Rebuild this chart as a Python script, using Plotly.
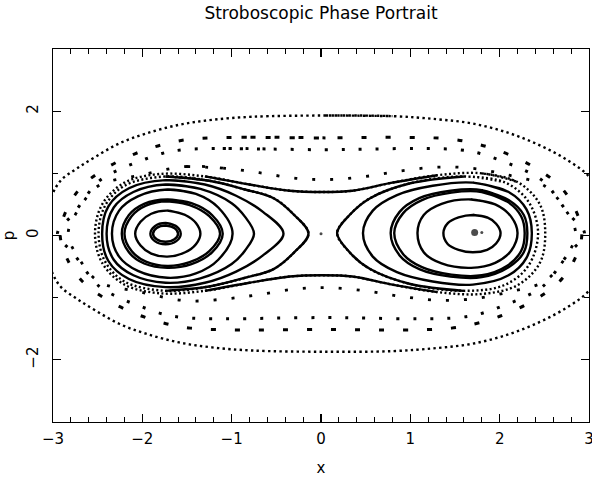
import plotly.graph_objects as go

# ---------------- data ----------------
# Every orbit is given by points on its upper half (x, p), left to right.
# The lower half is the mirror image about the portrait's mid-line P_AXIS.
P_AXIS = 0.03

# outer dense dotted torus
outer_x = [-3.13, -3.02, -2.91, -2.73, -2.52, -2.26, -1.96, -1.59, -1.22, -0.77, 0.05, 0.80, 1.30, 1.70, 2.10, 2.45, 2.75, 3.00, 3.20, 3.27]
outer_p = [0.03, 0.62, 0.89, 1.08, 1.27, 1.48, 1.64, 1.78, 1.86, 1.91, 1.93, 1.92, 1.87, 1.80, 1.65, 1.45, 1.22, 0.95, 0.50, 0.03]

# island chain, dashed row
rowA_x = [-2.92, -2.84, -2.67, -2.41, -2.09, -1.78, -1.46, -0.89, 0.05, 0.89, 1.46, 1.78, 2.09, 2.41, 2.67, 2.84, 2.92]
rowA_p = [0.03, 0.44, 0.80, 1.08, 1.31, 1.46, 1.55, 1.58, 1.57, 1.58, 1.55, 1.46, 1.31, 1.08, 0.80, 0.44, 0.03]

# island chain, dotted row
rowB_x = [-2.95, -2.77, -2.49, -2.26, -2.02, -1.78, -1.54, -1.10, -0.54, 0.05, 0.54, 1.10, 1.54, 1.78, 2.02, 2.26, 2.49, 2.77, 2.95]
rowB_p = [0.03, 0.35, 0.87, 1.06, 1.20, 1.32, 1.38, 1.40, 1.39, 1.38, 1.39, 1.40, 1.38, 1.32, 1.20, 1.06, 0.87, 0.35, 0.03]

# sparse orbit just outside the separatrix
ring3_x = [-2.83, -2.70, -2.49, -2.02, -1.50, -1.07, -0.69, -0.28, 0.09, 0.50, 0.90, 1.30, 1.70, 2.10, 2.50, 2.72, 2.85]
ring3_p = [0.03, 0.45, 0.80, 0.97, 1.11, 1.08, 1.01, 0.92, 0.90, 0.95, 1.04, 1.10, 1.08, 0.97, 0.80, 0.45, 0.03]

# solid orbit encircling both wells (dotted on its far sides)
eight_x = [-2.53, -2.45, -2.20, -1.80, -1.30, -0.80, -0.35, 0.00, 0.35, 0.80, 1.30, 1.80, 2.20, 2.45, 2.51]
eight_p = [0.03, 0.50, 0.85, 0.99, 0.95, 0.82, 0.72, 0.70, 0.72, 0.85, 0.97, 1.00, 0.86, 0.50, 0.03]
SOLID_HALF_WIDTH = 1.3

# left well orbits
left_orbits = [
    ([-1.91, -1.86, -1.74, -1.62, -1.57], [0.03, 0.15, 0.20, 0.15, 0.03]),
    ([-1.88, -1.84, -1.74, -1.64, -1.60], [0.03, 0.12, 0.16, 0.12, 0.03]),
    ([-2.08, -2.02, -1.90, -1.72, -1.52, -1.40, -1.35], [0.03, 0.22, 0.35, 0.40, 0.33, 0.20, 0.03]),
    ([-2.23, -2.15, -1.98, -1.72, -1.45, -1.22, -1.10], [0.03, 0.33, 0.51, 0.58, 0.52, 0.33, 0.03]),
    ([-2.20, -2.12, -1.96, -1.72, -1.47, -1.25, -1.13], [0.03, 0.31, 0.48, 0.55, 0.49, 0.31, 0.03]),
    ([-2.34, -2.26, -2.05, -1.72, -1.40, -1.15, -0.99], [0.03, 0.40, 0.63, 0.74, 0.67, 0.45, 0.03]),
    ([-2.40, -2.32, -2.10, -1.74, -1.35, -1.00, -0.85, -0.75], [0.03, 0.45, 0.70, 0.82, 0.75, 0.52, 0.30, 0.03]),
    ([-2.45, -2.38, -2.15, -1.74, -1.30, -0.95, -0.65, -0.42], [0.03, 0.47, 0.76, 0.89, 0.82, 0.64, 0.38, 0.03]),
]
# left near-separatrix orbit (dotted on its outer side)
lsep_x = [-2.49, -2.42, -2.20, -1.74, -1.25, -0.85, -0.53, -0.30, -0.14]
lsep_p = [0.03, 0.47, 0.80, 0.95, 0.88, 0.74, 0.60, 0.33, 0.03]

# right well orbits
right_orbits = [
    ([1.37, 1.42, 1.54, 1.70, 1.86, 1.96, 2.01], [0.04, 0.20, 0.29, 0.33, 0.29, 0.19, 0.04]),
    ([1.08, 1.15, 1.35, 1.68, 1.95, 2.13, 2.20], [0.04, 0.33, 0.51, 0.58, 0.50, 0.30, 0.04]),
    ([0.78, 0.88, 1.10, 1.45, 1.80, 2.10, 2.27, 2.31], [0.04, 0.38, 0.60, 0.72, 0.73, 0.57, 0.33, 0.04]),
    ([0.82, 0.92, 1.13, 1.46, 1.80, 2.08, 2.24, 2.28], [0.04, 0.36, 0.57, 0.69, 0.70, 0.55, 0.31, 0.04]),
    ([0.47, 0.58, 0.85, 1.25, 1.70, 2.10, 2.30, 2.36], [0.04, 0.40, 0.65, 0.80, 0.85, 0.70, 0.42, 0.04]),
]
rsep_x = [0.18, 0.32, 0.55, 1.00, 1.60, 2.05, 2.32, 2.43]
rsep_p = [0.04, 0.33, 0.60, 0.84, 0.95, 0.86, 0.55, 0.04]

# fixed points
fixed_x = [0.0, 1.72, 1.80]
fixed_p = [0.03, 0.05, 0.05]
fixed_size = [3, 7, 3]

x_ticks = [-3, -2, -1, 0, 1, 2, 3]
p_ticks = [-2, 0, 2]


# ---------------- helpers ----------------
def closed(xs, ps):
    """Upper half -> full closed path, started at the top and wrapped."""
    fx = list(xs) + list(xs[-2::-1])
    fp = list(ps) + [2 * P_AXIS - v for v in ps[-2::-1]]
    fx, fp = fx[:-1], fp[:-1]
    k = max(range(len(ps)), key=lambda i: ps[i])
    fx = fx[k:] + fx[:k]
    fp = fp[k:] + fp[:k]
    return fx + fx[:2], fp + fp[:2]


def line_trace(x, y, width=2.4, dash="solid"):
    return go.Scatter(x=x, y=y, mode="lines",
                      line=dict(color="black", width=width, shape="spline", dash=dash, smoothing=1.0),
                      hoverinfo="skip", showlegend=False)


fig = go.Figure()

# outer dense dotted orbit
fx, fp = closed(outer_x, outer_p)
fig.add_trace(line_trace(fx, fp, 2.4, "2.4px,3.3px"))
# island chain rows
fx, fp = closed(rowA_x, rowA_p)
fig.add_trace(line_trace(fx, fp, 3.0, "5px,19px"))
fx, fp = closed(rowB_x, rowB_p)
fig.add_trace(line_trace(fx, fp, 3.0, "3px,14px"))
fx, fp = closed(ring3_x, ring3_p)
fig.add_trace(line_trace(fx, fp, 2.8, "3px,15px"))

# encircling orbit: dotted everywhere, solid over the middle
fx, fp = closed(eight_x, eight_p)
fig.add_trace(line_trace(fx, fp, 2.4, "2px,2.4px"))
mid = [i for i, v in enumerate(eight_x) if abs(v) <= SOLID_HALF_WIDTH]
mx = [eight_x[i] for i in mid]
fig.add_trace(line_trace(mx, [eight_p[i] for i in mid]))
fig.add_trace(line_trace(mx, [2 * P_AXIS - eight_p[i] for i in mid]))

# near-separatrix lobe orbits: dotted outside, solid toward the saddle
for xs, ps, inner in ((lsep_x, lsep_p, lambda v: v >= -1.74), (rsep_x, rsep_p, lambda v: v <= 1.60)):
    fx, fp = closed(xs, ps)
    fig.add_trace(line_trace(fx, fp, 2.4, "2px,2.4px"))
    idx = [i for i, v in enumerate(xs) if inner(v)]
    if xs[0] > 0:
        idx = idx[::-1]
    ax = [xs[i] for i in idx]
    ap = [ps[i] for i in idx]
    arc_x = ax + ax[-2::-1]
    arc_p = ap + [2 * P_AXIS - v for v in ap[-2::-1]]
    fig.add_trace(line_trace(arc_x, arc_p))

for xs, ps in left_orbits + right_orbits:
    fx, fp = closed(xs, ps)
    fig.add_trace(line_trace(fx, fp))

fig.add_trace(go.Scatter(x=fixed_x, y=fixed_p, mode="markers",
                         marker=dict(color="black", size=fixed_size, line=dict(width=0)),
                         hoverinfo="skip", showlegend=False))

FONT = "DejaVu Sans, Verdana, sans-serif"
axis_common = dict(
    showgrid=False, zeroline=False, showline=True, linecolor="black", linewidth=1.3,
    mirror="allticks", ticks="inside", ticklen=8, tickwidth=1.2, tickcolor="black",
    tickfont=dict(family=FONT, size=15, color="black"), automargin=False,
    ticklabeloverflow="allow",
)
fig.update_layout(
    width=592, height=478,
    margin=dict(l=53, r=3, t=49, b=56),
    paper_bgcolor="white", plot_bgcolor="white",
    font=dict(family=FONT, color="black"),
    title=dict(text="Stroboscopic Phase Portrait", x=0.5, xref="paper", xanchor="center",
               y=1 - 13 / 478, yref="container", yanchor="middle",
               font=dict(family=FONT, size=17, color="black")),
    xaxis=dict(range=[-3, 3], tickvals=x_ticks, ticktext=[str(v).replace("-", "\u2212") for v in x_ticks],
               minor=dict(dtick=0.2, ticks="inside", ticklen=5, tickwidth=1.0, tickcolor="black"),
               ticklabelstandoff=3,
               title=dict(text="x", font=dict(family=FONT, size=15)),
               **axis_common),
    yaxis=dict(range=[-3, 3], tickvals=p_ticks, ticktext=[str(v).replace("-", "\u2212") for v in p_ticks],
               tickangle=-90, ticklabelstandoff=8,
               minor=dict(dtick=1, ticks="inside", ticklen=5, tickwidth=1.0, tickcolor="black"),
               title=dict(text="p", font=dict(family=FONT, size=15)),
               **axis_common),
)

# the page's default 8px body margin would shift the chart; remove it
fig.write_html("out.html", config={"displayModeBar": False, "staticPlot": True},
               post_script="document.body.style.margin='0';")
